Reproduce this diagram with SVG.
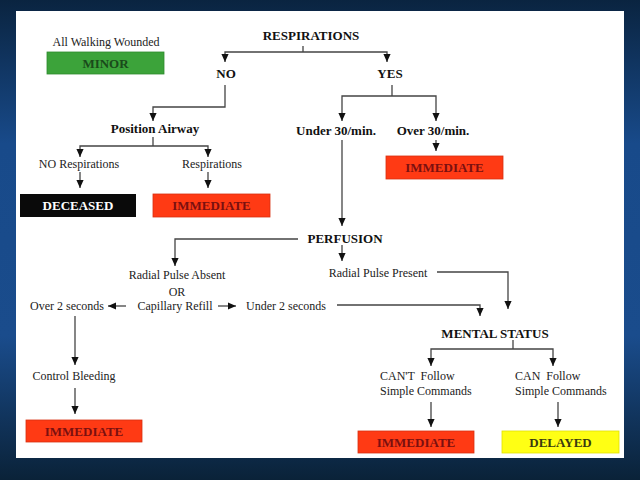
<svg xmlns="http://www.w3.org/2000/svg" width="640" height="480" viewBox="0 0 640 480">
<defs>
<linearGradient id="bg" x1="0" y1="0" x2="0" y2="1">
<stop offset="0" stop-color="#0a2440"/>
<stop offset="0.3" stop-color="#184a8a"/>
<stop offset="0.7" stop-color="#1a4c8c"/>
<stop offset="1" stop-color="#0a2238"/>
</linearGradient>
<marker id="ah" viewBox="0 0 10 10" refX="10" refY="5" markerWidth="8" markerHeight="8" markerUnits="userSpaceOnUse" orient="auto">
<path d="M0,0.5 L10,5 L0,9.5 z" fill="#111"/>
</marker>
<style>
.t{font-family:"Liberation Serif","Times New Roman",serif;font-size:12px;fill:#222;text-anchor:middle}
.s{text-anchor:start;white-space:pre}
.b{font-weight:bold;font-size:13px;fill:#111}
.bx{font-family:"Liberation Serif","Times New Roman",serif;font-weight:bold;font-size:13px;text-anchor:middle}
.red{fill:#ff3a14;stroke:#d83010;stroke-width:0.8}
.rt{fill:#7a1010}
#conn path{fill:none;stroke:#444;stroke-width:1.3}
.a{marker-end:url(#ah)}
</style>
</defs>
<rect width="640" height="480" fill="url(#bg)"/>
<rect x="16" y="11" width="608" height="447" fill="#ffffff"/>

<g id="conn">
<path d="M303,46 V52"/>
<path class="a" d="M303,52 H225 V62"/>
<path class="a" d="M303,52 H387 V62"/>
<path class="a" d="M225,85 V107 H153 V121"/>
<path d="M153,137 V146"/>
<path class="a" d="M153,146 H80 V157"/>
<path class="a" d="M153,146 H208 V157"/>
<path class="a" d="M80,172 V188"/>
<path class="a" d="M208,172 V188"/>
<path d="M392,85 V96"/>
<path class="a" d="M392,96 H342 V121"/>
<path class="a" d="M392,96 H436 V121"/>
<path class="a" d="M342,140 V226"/>
<path class="a" d="M436,140 V151"/>
<path class="a" d="M298,239 H175 V266"/>
<path class="a" d="M342,245 V261"/>
<path class="a" d="M437,272 H508 V309"/>
<path class="a" d="M126,306 H108"/>
<path class="a" d="M218,306 H236"/>
<path class="a" d="M337,305 H480 V316"/>
<path d="M513,340 V349"/>
<path class="a" d="M513,349 H431 V366"/>
<path class="a" d="M513,349 H553 V366"/>
<path class="a" d="M431,402 V427"/>
<path class="a" d="M558,402 V427"/>
<path class="a" d="M75,316 V365"/>
<path class="a" d="M75,388 V414"/>
</g>

<g id="walking">
<text class="t" x="106" y="46">All Walking Wounded</text>
</g>
<g id="minor">
<rect x="47" y="52" width="117" height="22" fill="#3ca33a" stroke="#2e8a2e" stroke-width="0.8"/>
<text class="bx" x="105.5" y="67.5" fill="#1a4a1a" font-size="12">MINOR</text>
</g>
<g id="respirations"><text class="t b" x="311" y="40">RESPIRATIONS</text></g>
<g id="no"><text class="t b" x="226" y="78">NO</text></g>
<g id="yes"><text class="t b" x="390" y="78">YES</text></g>
<g id="position-airway"><text class="t b" x="155" y="132.5">Position Airway</text></g>
<g id="no-resp"><text class="t" x="79" y="168">NO Respirations</text></g>
<g id="resp"><text class="t" x="212" y="168">Respirations</text></g>
<g id="deceased">
<rect x="20" y="194" width="116" height="23" fill="#0a0a0a"/>
<text class="bx" x="78" y="210" fill="#ffffff">DECEASED</text>
</g>
<g id="immediate1">
<rect class="red" x="153" y="194" width="117" height="23"/>
<text class="bx rt" x="211.5" y="210">IMMEDIATE</text>
</g>
<g id="under30"><text class="t b" x="336" y="134.5">Under 30/min.</text></g>
<g id="over30"><text class="t b" x="433" y="134.5">Over 30/min.</text></g>
<g id="immediate2">
<rect class="red" x="386" y="156" width="117" height="23"/>
<text class="bx rt" x="444.5" y="172">IMMEDIATE</text>
</g>
<g id="perfusion"><text class="t b" x="345" y="242.5">PERFUSION</text></g>
<g id="pulse-present"><text class="t" x="378" y="277">Radial Pulse Present</text></g>
<g id="pulse-absent">
<text class="t" x="177" y="279">Radial Pulse Absent</text>
<text class="t" x="177" y="295.5" font-size="13">OR</text>
<text class="t" x="175" y="310">Capillary Refill</text>
</g>
<g id="over2"><text class="t" x="67" y="310">Over 2 seconds</text></g>
<g id="under2"><text class="t" x="286" y="310">Under 2 seconds</text></g>
<g id="mental-status"><text class="t b" x="495" y="337.5">MENTAL STATUS</text></g>
<g id="cant-follow">
<text class="t s" x="380" y="380">CAN'T  Follow</text>
<text class="t s" x="380" y="395">Simple Commands</text>
</g>
<g id="can-follow">
<text class="t s" x="515" y="380">CAN  Follow</text>
<text class="t s" x="515" y="395">Simple Commands</text>
</g>
<g id="immediate3">
<rect class="red" x="358" y="431" width="116" height="22"/>
<text class="bx rt" x="416" y="446.5">IMMEDIATE</text>
</g>
<g id="delayed">
<rect x="502" y="431" width="117" height="22" fill="#ffff14" stroke="#e0e000" stroke-width="0.8"/>
<text class="bx" x="560.5" y="446.5" fill="#3a3a10">DELAYED</text>
</g>
<g id="control-bleeding"><text class="t" x="74" y="380">Control Bleeding</text></g>
<g id="immediate4">
<rect class="red" x="26" y="420" width="116" height="22"/>
<text class="bx rt" x="84" y="435.5">IMMEDIATE</text>
</g>
</svg>
